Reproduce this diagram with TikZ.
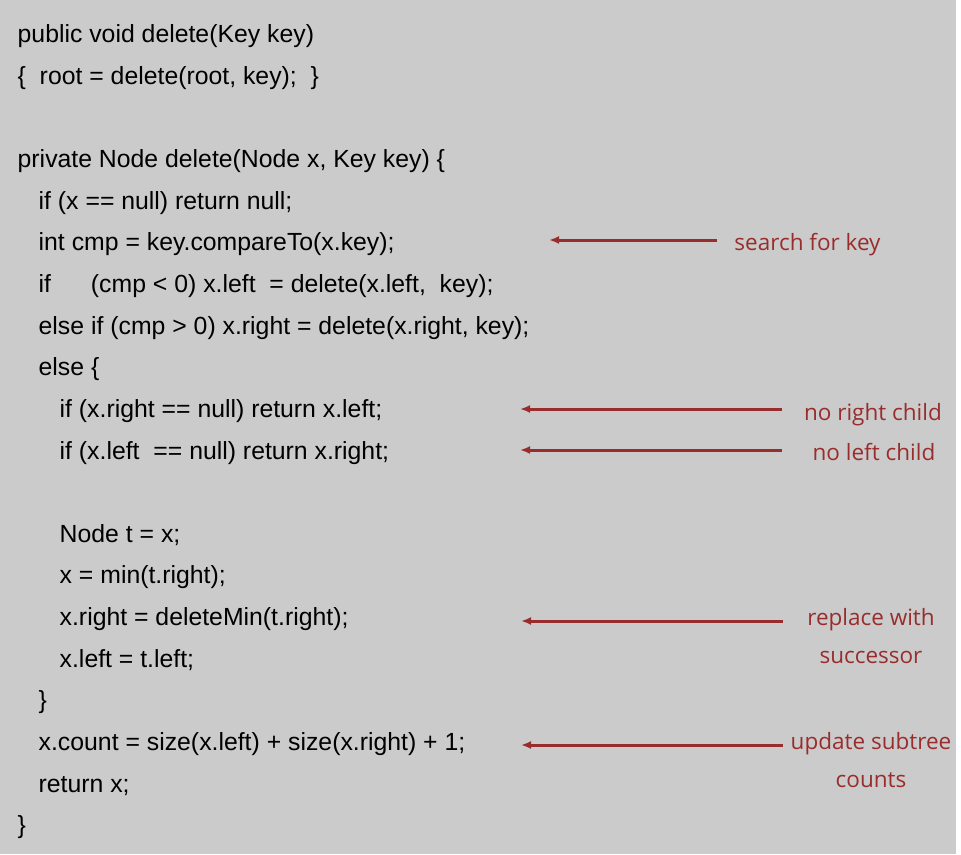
\documentclass[tikz,border=0pt]{standalone}
\usepackage{fontspec}
\setmainfont{Liberation Sans}
\newfontfamily\notefont{Open Sans}
\usetikzlibrary{arrows.meta}
\definecolor{codebg}{RGB}{203,203,203}
\definecolor{notered}{RGB}{153,45,45}
\tikzstyle{codeline} = [anchor=base west, inner sep=0pt, font=\fontsize{24.8}{30}\selectfont]
\tikzstyle{note} = [anchor=base, inner sep=0pt, align=center, text=notered, font=\notefont\fontsize{22.5}{37.5}\selectfont]
\tikzstyle{notearrow} = [line width=3pt, draw=notered, {Latex[length=10pt,width=8pt]}-]

\begin{document}
\begin{tikzpicture}[x=1pt, y=-1pt]
        \useasboundingbox (0,0) rectangle (961,854);
        \fill[codebg] (0,0) rectangle (956,854);
        % public wrapper
        \node (pubsig) [codeline] at (17.5,42.5) {public void delete(Key key)};
        \node (pubbody) [codeline] at (17.5,84.1) {\{\ \ root = delete(root, key);\ \ \}};
        % recursive delete
        \node (privsig) [codeline] at (17.5,167.5) {private Node delete(Node x, Key key) \{};
        \node (nullchk) [codeline] at (38.5,209.1) {if (x == null) return null;};
        \node (cmp) [codeline] at (38.5,250.7) {int cmp = key.compareTo(x.key);};
        \node (goleft) [codeline] at (38.5,292.4) {if\hspace{33pt} (cmp < 0) x.left\ \ = delete(x.left,\ \ key);};
        \node (goright) [codeline] at (38.5,334) {else if (cmp > 0) x.right = delete(x.right, key);};
        \node (found) [codeline] at (38.5,375.7) {else \{};
        \node (noright) [codeline] at (59.5,417.3) {if (x.right == null) return x.left;};
        \node (noleft) [codeline] at (59.5,459) {if (x.left\ \ == null) return x.right;};
        \node (savet) [codeline] at (59.5,542.3) {Node t = x;};
        \node (minx) [codeline] at (59.5,583.9) {x = min(t.right);};
        \node (delmin) [codeline] at (59.5,625.6) {x.right = deleteMin(t.right);};
        \node (setleft) [codeline] at (59.5,667.2) {x.left = t.left;};
        \node (endelse) [codeline] at (38.5,708.9) {\}};
        \node (count) [codeline] at (38.5,750.5) {x.count = size(x.left) + size(x.right) + 1;};
        \node (retx) [codeline] at (38.5,792.2) {return x;};
        \node (endfn) [codeline] at (17.5,833.8) {\}};
        % notes
        \node (nsearch) [note] at (807.5,250) {search for key};
        \node (nright) [note] at (873,420) {no right child};
        \node (nleft) [note] at (874,460) {no left child};
        \node (nsucc) [note] at (871,663) {replace with\\successor};
        \node (ncount) [note] at (871,787) {update subtree\\counts};
        \coordinate (tsearch) at (549,240);  \coordinate (ssearch) at (717,240);
        \coordinate (tright) at (520,409);   \coordinate (sright) at (782,409);
        \coordinate (tleft) at (520,450);    \coordinate (sleft) at (782,450);
        \coordinate (tsucc) at (521,621);    \coordinate (ssucc) at (783,621);
        \coordinate (tcount) at (521,745);   \coordinate (scount) at (783,745);
        \draw [notearrow] (tsearch) -- (ssearch);
        \draw [notearrow] (tright) -- (sright);
        \draw [notearrow] (tleft) -- (sleft);
        \draw [notearrow] (tsucc) -- (ssucc);
        \draw [notearrow] (tcount) -- (scount);
    \end{tikzpicture}
\end{document}
